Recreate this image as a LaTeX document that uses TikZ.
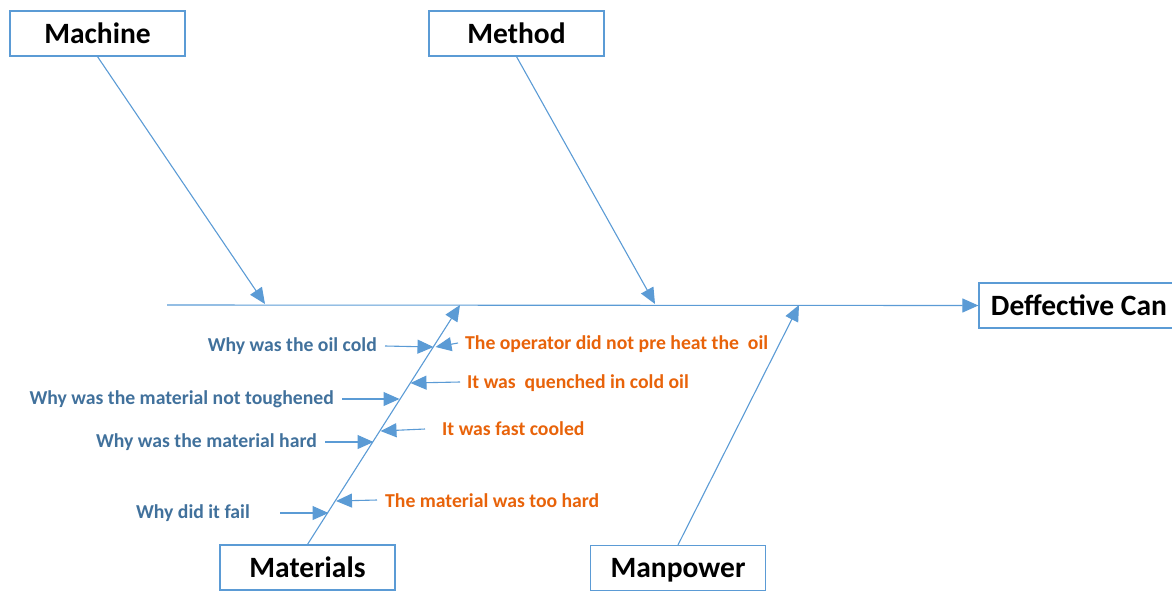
\documentclass[tikz,border=0pt]{standalone}
\usepackage{fontspec}
\setmainfont{Carlito}
\usetikzlibrary{arrows.meta}
\definecolor{lineblue}{HTML}{5B9BD5}
\definecolor{txtblue}{HTML}{41719C}
\definecolor{txtorange}{HTML}{E8630A}
\tikzset{
  catbox/.style={draw=lineblue, line width=1.2pt, fill=white, minimum width=175pt, minimum height=45pt, inner sep=0pt,
    font=\fontsize{29.5}{31}\selectfont\bfseries, text height=19pt, text depth=0pt},
  bone/.style={draw=lineblue, line width=1.1pt, -{Triangle[length=16pt,width=14pt]}},
  why/.style={text=txtblue, font=\fontsize{19.7}{21}\selectfont\bfseries, inner sep=0pt, anchor=base east},
  ans/.style={text=txtorange, font=\fontsize{19.7}{21}\selectfont\bfseries, inner sep=0pt, anchor=base west},
}
\begin{document}
\begin{tikzpicture}[x=1pt,y=-1pt]
\useasboundingbox (0,0) rectangle (1172,590);
% category boxes
\node[catbox] (machine) at (97.5,33.5) {Machine};
\node[catbox] (method) at (516.5,33.5) {Method};
\node[catbox] (materials) at (307.5,567.5) {Materials};
\node[catbox] (manpower) at (678,568) {Manpower};
\node[catbox, minimum width=200pt] (effect) at (1079,305.5) {Deffective Can};
% spine
\coordinate (spineL) at (167,305);
\draw[bone] (spineL) -- (effect.west);
% bones
\coordinate (tMachine) at (265,304);
\coordinate (tMethod) at (655,304);
\coordinate (tMaterials) at (460,305);
\coordinate (tManpower) at (799,305);
\draw[bone] (machine.south) -- (tMachine);
\draw[bone] (method.south) -- (tMethod);
\draw[bone] (materials.north) -- (tMaterials);
\draw[bone] (manpower.north) -- (tManpower);
% labels
\node[why] (w1) at (377,351.5) {Why was the oil cold};
\node[ans] (a1) at (465,349.5) {The operator did not pre heat the\ \ oil};
\node[ans] (a2) at (467,388) {It was\ \ quenched in cold oil};
\node[why] (w2) at (334,404) {Why was the material not toughened};
\node[ans] (a3) at (442,435.5) {It was fast cooled};
\node[why] (w3) at (317,447.5) {Why was the material hard};
\node[ans] (a4) at (385,507) {The material was too hard};
\node[why] (w4) at (250,518) {Why did it fail};
% arrow start points
\coordinate (s1) at (385,346);
\coordinate (s1b) at (458,343);
\coordinate (s2) at (460,382);
\coordinate (s3) at (342,399);
\coordinate (s4) at (425,429);
\coordinate (s5) at (325,442);
\coordinate (s6) at (377,500);
\coordinate (s7) at (280,513);
% tips on the materials bone
\coordinate (t1) at (433.5,347);
\coordinate (t1b) at (435.5,347);
\coordinate (t2) at (410.5,383);
\coordinate (t3) at (399.5,399);
\coordinate (t4) at (380.5,431);
\coordinate (t5) at (373.5,442);
\coordinate (t6) at (336,501);
\coordinate (t7) at (328.5,513);
% why/answer arrows
\draw[bone] (s1) -- (t1);
\draw[bone] (s1b) -- (t1b);
\draw[bone] (s2) -- (t2);
\draw[bone] (s3) -- (t3);
\draw[bone] (s4) -- (t4);
\draw[bone] (s5) -- (t5);
\draw[bone] (s6) -- (t6);
\draw[bone] (s7) -- (t7);
\end{tikzpicture}
\end{document}
